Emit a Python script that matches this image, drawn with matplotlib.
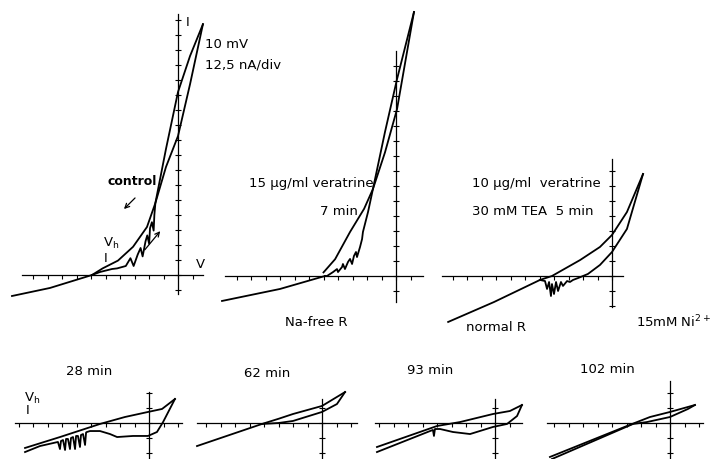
import numpy as np
import matplotlib
matplotlib.use("Agg")
import matplotlib.pyplot as plt

W, H = 720, 460
PX_PER_MV = 1.45   # 10 mV / div
PX_PER_NA = 1.2    # 12.5 nA / div

# ---- traces: voltage (mV), current (nA) ----
# control
ctrl_tail_v = [-114.5, -88.3, -59.3]
ctrl_tail_i = [-17.5, -10.8, 0.0]
ctrl_down_v = [-59.3, -52.0, -41.4, -31.0, -21.4, -15.6, -8.3, 0.0, 8.3, 17.2]
ctrl_down_i = [0.0, 5.5, 12.0, 23.5, 40.0, 60.0, 90.0, 115.8, 159.0, 209.0]
ctrl_up_v = [-59.3, -53.8, -45.5, -42.0, -36.0, -32.8, -30.6, -27.8, -25.8, -24.4, -22.4,
             -21.2, -19.9, -19.3, -18.0, -16.8, -16.3, -15.6, -8.3, 0.0, 8.3, 17.2]
ctrl_up_i = [0.0, 2.5, 5.0, 5.5, 7.5, 14.0, 7.5, 17.0, 22.5, 15.5, 28.0,
             33.0, 26.0, 39.0, 44.0, 37.0, 50.0, 60.0, 105.0, 152.5, 182.5, 209.0]

# 15 ug/ml veratrine, 7 min
v15_tail_v = [-120.0, -80.0, -49.0]
v15_tail_i = [-20.8, -10.8, 0.0]
v15_down_v = [-50.0, -42.0, -31.7, -22.0, -15.9, -7.6, 0.7, 12.4]
v15_down_i = [3.0, 14.0, 36.7, 56.0, 72.5, 103.0, 139.0, 220.0]
v15_up_v = [-49.0, -47.6, -43.4, -40.7, -40.0, -37.2, -36.6, -35.2, -33.1, -31.7, -30.3,
            -29.0, -27.6, -26.9, -24.8, -23.4, -22.8, -19.3, -15.9, -7.6, 0.7, 12.4]
v15_up_i = [0.0, 0.0, 3.3, 5.8, 3.3, 7.5, 10.0, 5.8, 11.7, 14.2, 10.0,
            16.7, 20.0, 15.8, 24.2, 30.8, 36.7, 53.3, 72.5, 120.0, 164.0, 220.0]

# 10 ug/ml veratrine + 30 mM TEA, 5 min
tea_tail_v = [-113.0, -81.4, -49.7]
tea_tail_i = [-38.3, -21.7, -3.3]
tea_down_v = [-49.7, -41.4, -22.0, -8.3, 0.0, 10.3, 21.4]
tea_down_i = [-3.3, 0.0, 13.3, 24.2, 34.2, 53.3, 85.0]
tea_up_v = [-49.7, -46.2, -44.8, -43.4, -42.1, -41.4, -40.0, -38.6, -37.2, -35.2, -33.8,
            -31.0, -29.0, -26.9, -23.4, -20.0, -16.6, -8.3, 0.0, 10.3, 21.4]
tea_up_i = [-3.3, -4.2, -10.8, -5.0, -16.7, -6.7, -15.0, -5.0, -12.5, -5.0, -8.3,
            -4.2, -5.0, -3.3, -1.7, 0.0, 1.7, 9.2, 20.0, 39.2, 85.0]

# 28 min
m28_up_v = [-85.5, -61.4, -33.8, -16.6, -0.7, 9.0, 17.9]
m28_up_i = [-20.8, -11.7, -0.8, 5.0, 9.2, 11.7, 20.0]
m28_down_v = [17.9, 9.7, 5.5, -0.7, -11.0, -22.0, -26.9, -33.8, -40.7, -42.8, -43.4,
              -44.1, -45.5, -46.9, -47.6, -49.0, -50.3, -51.0, -52.4, -53.8, -54.5,
              -55.9, -57.2, -57.9, -59.3, -60.7, -61.4, -62.8, -75.2, -85.5]
m28_down_i = [20.0, 0.8, -7.5, -10.8, -10.8, -11.7, -9.2, -6.7, -6.7, -7.5, -7.9,
              -18.3, -9.2, -10.0, -20.0, -10.8, -10.8, -21.7, -11.7, -12.5, -21.7,
              -13.3, -13.3, -22.5, -14.2, -15.0, -21.7, -15.8, -19.2, -24.2]

# 62 min
m62_up_v = [-86.2, -41.4, -30.0, -20.0, 0.0, 15.9]
m62_up_i = [-19.2, -0.8, 3.5, 7.5, 14.2, 25.8]
m62_down_v = [15.9, 10.3, 0.0, -20.0, -30.0, -41.4]
m62_down_i = [25.8, 15.8, 9.2, 1.7, 0.0, -0.8]

# 93 min
m93_up_v = [-81.4, -40.0, -24.1, -1.4, 10.3, 18.6]
m93_up_i = [-20.0, -2.5, 0.8, 7.5, 10.0, 15.0]
m93_down_v = [18.6, 15.2, 8.3, -1.4, -17.2, -29.0, -37.9, -41.4, -42.1, -42.8, -44.8, -81.4]
m93_down_i = [15.0, 5.8, -0.8, -3.3, -9.2, -7.5, -5.0, -5.0, -10.8, -5.8, -6.7, -24.2]

# 102 min
m102_up_v = [-82.8, -29.7, -13.8, 0.0, 17.2]
m102_up_i = [-28.3, -2.5, 5.0, 9.2, 15.0]
m102_down_v = [17.2, 12.4, 0.0, -15.9, -25.5, -81.4]
m102_down_i = [15.0, 11.7, 5.0, 0.8, -0.8, -30.0]

# panel layout: origin in pixels, axis extents in mV / nA
panels = [
    ((178, 276), (-107.6, 17.2), (-15.8, 217.5),
     [(ctrl_tail_v, ctrl_tail_i), (ctrl_down_v, ctrl_down_i), (ctrl_up_v, ctrl_up_i)]),
    ((396, 277), (-118.0, 18.6), (-21.7, 187.5),
     [(v15_tail_v, v15_tail_i), (v15_down_v, v15_down_i), (v15_up_v, v15_up_i)]),
    ((612, 277), (-117.0, 7.6), (-25.8, 97.5),
     [(tea_tail_v, tea_tail_i), (tea_down_v, tea_down_i), (tea_up_v, tea_up_i)]),
    ((149, 424), (-92.4, 22.8), (-30.0, 25.8),
     [(m28_up_v, m28_up_i), (m28_down_v, m28_down_i)]),
    ((322, 424), (-86.2, 24.1), (-30.0, 20.0),
     [(m62_up_v, m62_up_i), (m62_down_v, m62_down_i)]),
    ((495, 424), (-82.8, 18.6), (-30.0, 20.0),
     [(m93_up_v, m93_up_i), (m93_down_v, m93_down_i)]),
    ((670, 424), (-84.8, 22.8), (-30.0, 35.0),
     [(m102_up_v, m102_up_i), (m102_down_v, m102_down_i)]),
]

fig = plt.figure(figsize=(7.2, 4.6), dpi=100)
fig.patch.set_facecolor("white")


def fxy(px, py):
    return px / W, 1 - py / H


for (ox, oy), xb, yb, traces in panels:
    ax = fig.add_axes([0, 0, 1, 1])
    ax.patch.set_alpha(0)
    ax.set_xlim(-ox / PX_PER_MV, (W - ox) / PX_PER_MV)
    ax.set_ylim(-(H - oy) / PX_PER_NA, oy / PX_PER_NA)
    for s in ("top", "right"):
        ax.spines[s].set_visible(False)
    ax.spines["left"].set_position(("data", 0))
    ax.spines["bottom"].set_position(("data", 0))
    ax.spines["left"].set_bounds(*yb)
    ax.spines["bottom"].set_bounds(*xb)
    for s in ("left", "bottom"):
        ax.spines[s].set_linewidth(0.9)
    ax.set_xticks(np.arange(np.ceil(xb[0] / 10) * 10, xb[1], 10))
    ax.set_yticks(np.arange(np.ceil(yb[0] / 12.5) * 12.5, yb[1], 12.5))
    ax.tick_params(axis="x", direction="out", length=3, width=0.8, labelbottom=False)
    ax.tick_params(axis="y", direction="inout", length=4, width=0.8, labelleft=False)
    for v, i in traces:
        ax.plot(v, i, color="black", lw=1.3, solid_joinstyle="round")

txt = dict(color="black", fontsize=9.5, va="center", family="DejaVu Sans")


def label(px, py, s, **kw):
    x, y = fxy(px, py)
    opts = dict(txt)
    opts.update(kw)
    fig.text(x, y, s, **opts)


label(186, 22, "I")
label(196, 264, "V")
label(205, 44, "10 mV")
label(205, 65, "12,5 nA/div")
label(107, 182, "control", fontweight="bold", fontsize=9)
label(103, 243, "V$_\\mathregular{h}$")
label(104, 258, "I")
label(249, 184, "15 µg/ml veratrine")
label(320, 212, "7 min")
label(472, 183, "10 µg/ml  veratrine")
label(472, 212, "30 mM TEA  5 min")
label(285, 323, "Na-free R")
label(466, 328, "normal R")
label(636, 322, "15mM Ni$^\\mathregular{2+}$")
label(66, 372, "28 min")
label(244, 374, "62 min")
label(407, 371, "93 min")
label(580, 370, "102 min")
label(24, 398, "V$_\\mathregular{h}$")
label(26, 411, "I")

# direction arrows on the control record
for (x0, y0), (x1, y1) in [((137, 197), (122, 212)), ((143, 253), (162, 230))]:
    fig.add_artist(matplotlib.patches.FancyArrowPatch(
        fxy(x0, y0), fxy(x1, y1), transform=fig.transFigure,
        arrowstyle="->", mutation_scale=8, lw=0.9, color="black"))

fig.savefig("out.png", dpi=100)
